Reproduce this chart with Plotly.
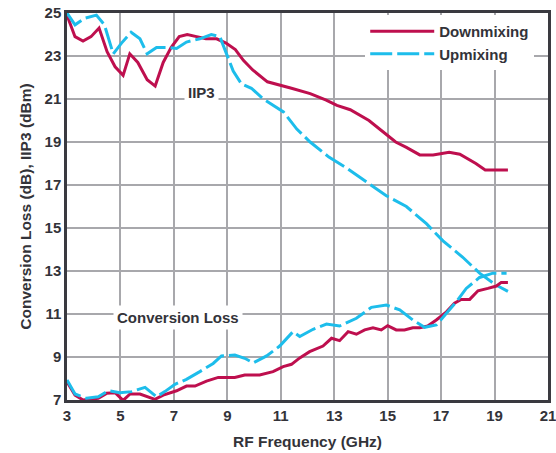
import plotly.graph_objects as go

# IIP3 data
iip3_down_x = [3, 3.3, 3.6, 3.9, 4.2, 4.5, 4.8, 5.1, 5.35, 5.65, 6.0, 6.3, 6.6, 6.9, 7.2, 7.5, 7.85, 8.2, 8.6, 8.95,
               9.3, 9.6, 9.95, 10.5, 11.4, 12.1, 12.7, 13.1, 13.6, 14.3, 14.8, 15.3, 15.7, 16.2, 16.7, 17.3, 17.7,
               18.3, 18.65, 19.5]
iip3_down_y = [24.9, 23.9, 23.7, 23.9, 24.3, 23.2, 22.5, 22.1, 23.1, 22.7, 21.9, 21.6, 22.7, 23.4, 23.9, 24.0, 23.9,
               23.8, 23.8, 23.6, 23.3, 22.8, 22.35, 21.8, 21.5, 21.25, 20.95, 20.7, 20.5, 20.0, 19.5, 19.0, 18.75,
               18.4, 18.4, 18.52, 18.43, 18.0, 17.7, 17.7]

iip3_up_x = [3, 3.3, 3.65, 4.1, 4.4, 4.73, 5.04, 5.4, 5.73, 6.0, 6.35, 6.73, 7.1, 7.47, 7.97, 8.4, 8.72, 8.97, 9.22,
             9.53, 9.9, 10.35, 11.1, 11.6, 12.1, 12.8, 13.45, 14.2, 14.95, 15.7, 16.45, 17.07, 17.8, 18.44, 19.05,
             19.5]
iip3_up_y = [25.0, 24.45, 24.75, 24.9, 24.45, 23.1, 23.6, 24.1, 23.8, 23.1, 23.4, 23.4, 23.35, 23.65, 23.8, 24.0,
             23.9, 23.1, 22.3, 21.7, 21.5, 21.0, 20.4, 19.6, 19.0, 18.3, 17.8, 17.15, 16.5, 16.0, 15.2, 14.4, 13.65,
             12.9, 12.35, 12.05]

# Conversion loss data
cl_down_x = [3, 3.3, 3.6, 4.17, 4.48, 4.8, 5.1, 5.36, 5.73, 6.29, 6.6, 7.1, 7.47, 7.79, 8.22, 8.66, 9.28, 9.65,
             10.21, 10.71, 11.09, 11.4, 11.71, 12.08, 12.58, 12.9, 13.2, 13.52, 13.83, 14.14, 14.45, 14.76, 15.0,
             15.32, 15.63, 15.94, 16.2, 16.5, 16.82, 17.2, 17.5, 17.75, 18.07, 18.38, 18.75, 19.07, 19.25, 19.5]
cl_down_y = [7.85, 7.23, 7.0, 7.08, 7.31, 7.34, 6.98, 7.28, 7.28, 7.03, 7.23, 7.43, 7.65, 7.65, 7.88, 8.05, 8.05,
             8.16, 8.16, 8.32, 8.55, 8.66, 8.96, 9.25, 9.51, 9.87, 9.76, 10.18, 10.06, 10.26, 10.36, 10.26, 10.46,
             10.26, 10.26, 10.36, 10.36, 10.44, 10.72, 11.1, 11.5, 11.68, 11.68, 12.08, 12.19, 12.3, 12.47, 12.47]

cl_up_x = [3, 3.3, 3.73, 4.17, 4.55, 4.98, 5.42, 5.92, 6.35, 6.66, 7.04, 7.47, 7.97, 8.47, 8.78, 9.28, 9.65, 9.97,
           10.47, 10.96, 11.46, 11.71, 12.21, 12.71, 13.2, 13.83, 14.39, 14.95, 15.45, 15.94, 16.38, 16.82, 17.2,
           17.57, 17.94, 18.44, 18.94, 19.45]
cl_up_y = [7.93, 7.28, 7.08, 7.15, 7.43, 7.34, 7.39, 7.59, 7.15, 7.39, 7.73, 7.96, 8.32, 8.7, 9.05, 9.09, 8.94, 8.73,
           9.05, 9.51, 10.18, 9.95, 10.29, 10.53, 10.44, 10.8, 11.31, 11.42, 11.19, 10.72, 10.38, 10.49, 11.03,
           11.57, 12.19, 12.7, 12.9, 12.9]

x_ticks = [3, 5, 7, 9, 11, 13, 15, 17, 19, 21]
y_ticks = [7, 9, 11, 13, 15, 17, 19, 21, 23, 25]

DOWN = "#BE0F4E"
UP = "#1DBDEB"
TXT = "#333339"
FONT = "Liberation Sans, Arial, sans-serif"

fig = go.Figure()
fig.add_trace(go.Scatter(x=iip3_down_x, y=iip3_down_y, mode="lines", name="<b>Downmixing</b>",
                         legendgroup="down", line=dict(color=DOWN, width=3)))
fig.add_trace(go.Scatter(x=iip3_up_x, y=iip3_up_y, mode="lines", name="<b>Upmixing</b>",
                         legendgroup="up", line=dict(color=UP, width=3, dash="22px,5px")))
fig.add_trace(go.Scatter(x=cl_down_x, y=cl_down_y, mode="lines", name="Downmixing", showlegend=False,
                         legendgroup="down", line=dict(color=DOWN, width=3)))
fig.add_trace(go.Scatter(x=cl_up_x, y=cl_up_y, mode="lines", name="Upmixing", showlegend=False,
                         legendgroup="up", line=dict(color=UP, width=3, dash="22px,5px")))

fig.add_annotation(x=8.05, y=21.3, text="<b>IIP3</b>", showarrow=False, bgcolor="white",
                   font=dict(family=FONT, size=15, color=TXT), borderpad=3)
fig.add_annotation(x=7.15, y=10.85, text="<b>Conversion Loss</b>", showarrow=False, bgcolor="white",
                   font=dict(family=FONT, size=15, color=TXT), borderpad=3)

fig.update_layout(
    width=556, height=453,
    margin=dict(l=67, r=8, t=13, b=53),
    paper_bgcolor="white", plot_bgcolor="white",
    font=dict(family=FONT, size=15, color=TXT),
    legend=dict(x=0.62, y=0.995, xanchor="left", yanchor="top", bgcolor="white",
                font=dict(family=FONT, size=15, color=TXT), itemwidth=64,
                tracegroupgap=0, borderwidth=0),
    xaxis=dict(range=[3, 21], tickvals=x_ticks, ticktext=[f"<b>{v}</b>" for v in x_ticks],
               showgrid=True, gridcolor="#A8A8AC", gridwidth=1.5, zeroline=False, automargin=False,
               ticklabeloverflow="allow",
               showline=True, linecolor="#3A3A40", linewidth=2.5, mirror=True, ticks="",
               tickfont=dict(family=FONT, size=15, color=TXT),
               title=dict(text="<b>RF Frequency (GHz)</b>", font=dict(family=FONT, size=15.5, color=TXT),
                          standoff=14)),
    yaxis=dict(range=[7, 25], tickvals=y_ticks, ticktext=[f"<b>{v}</b>" for v in y_ticks],
               showgrid=True, gridcolor="#A8A8AC", gridwidth=1.5, zeroline=False, automargin=False,
               ticklabeloverflow="allow",
               showline=True, linecolor="#3A3A40", linewidth=2.5, mirror=True, ticks="",
               tickfont=dict(family=FONT, size=15, color=TXT),
               title=dict(text="<b>Conversion Loss (dB), IIP3 (dBm)</b>",
                          font=dict(family=FONT, size=15.5, color=TXT), standoff=10)),
)

fig.write_html("out.html")
